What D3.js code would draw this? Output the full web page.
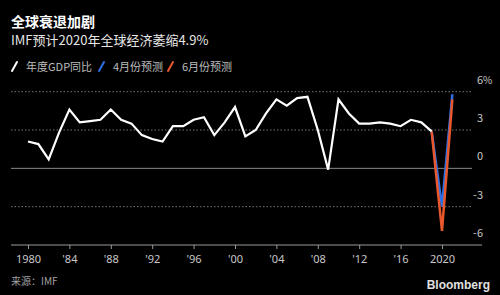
<!DOCTYPE html>
<html>
<head>
<meta charset="utf-8">
<script src="https://cdn.jsdelivr.net/npm/d3@7"></script>
<style>
  body { margin: 0; background: #000; }
  svg { display: block; font-family: "Noto Sans CJK SC", "Noto Sans", sans-serif; }
</style>
</head>
<body>
<div id="chart"></div>
<script>
// yearly world GDP growth (%), 1980-2019
var years = d3.range(1980, 2020);
var gdp = [2.1, 1.9, 0.7, 2.8, 4.6, 3.6, 3.7, 3.8, 4.6, 3.8,
           3.5, 2.6, 2.3, 2.1, 3.3, 3.3, 3.8, 4.0, 2.6, 3.6,
           4.8, 2.5, 3.0, 4.3, 5.4, 4.9, 5.5, 5.6, 3.0, -0.1,
           5.4, 4.3, 3.5, 3.5, 3.6, 3.5, 3.3, 3.8, 3.6, 2.9];
// forecasts start from 2019
var fcYears = [2019, 2020, 2021];
var aprilFc = [2.9, -3.0, 5.8];
var juneFc = [2.9, -4.9, 5.4];

var xTicks = [1980, 1984, 1988, 1992, 1996, 2000, 2004, 2008, 2012, 2016, 2020];
var xTickLabels = ["1980", "'84", "'88", "'92", "'96", "'00", "'04", "'08", "'12", "'16", "2020"];
var yTicks = [-6, -3, 0, 3, 6];

var svgWidth = 500;
var svgHeight = 295;

var svg = d3.select("#chart")
  .append("svg")
  .attr("width", svgWidth)
  .attr("height", svgHeight);

svg.append("rect").attr("width", svgWidth).attr("height", svgHeight).attr("fill", "#000");

// scales
var x = d3.scaleLinear().domain([1980, 2020]).range([28, 442]);
var y = d3.scaleLinear().domain([-6, 6]).range([245, 91.7]);

// title block
svg.append("text")
  .attr("x", 11).attr("y", 27)
  .attr("fill", "#fff")
  .attr("font-size", 14)
  .attr("font-weight", "bold")
  .text("全球衰退加剧");

svg.append("text")
  .attr("x", 11).attr("y", 45)
  .attr("fill", "#e6e6e6")
  .attr("font-size", 13)
  .text("IMF预计2020年全球经济萎缩4.9%");

// legend
var legend = [
  { label: "年度GDP同比", color: "#ffffff", x: 12 },
  { label: "4月份预测", color: "#2f6fe6", x: 99 },
  { label: "6月份预测", color: "#e9582c", x: 168 }
];
var lg = svg.selectAll(".legend")
  .data(legend)
  .enter()
  .append("g")
  .attr("transform", d => `translate(${d.x}, 66)`);
lg.append("line")
  .attr("x1", 0).attr("y1", 5).attr("x2", 5).attr("y2", -4)
  .attr("stroke", d => d.color)
  .attr("stroke-width", 2)
  .attr("stroke-linecap", "round");
lg.append("text")
  .attr("x", 14).attr("y", 4.5)
  .attr("fill", "#bdbdbd")
  .attr("font-size", 11)
  .text(d => d.label);

// gridlines
svg.selectAll(".grid")
  .data(yTicks.filter(d => d !== -6))
  .enter()
  .append("line")
  .attr("x1", 11).attr("x2", 472)
  .attr("y1", d => y(d)).attr("y2", d => y(d))
  .attr("stroke", d => d === 0 ? "#8a8a8a" : "#777")
  .attr("stroke-width", 1)
  .attr("stroke-dasharray", d => d === 0 ? null : "1.5,2");

// y labels
svg.selectAll(".ylab")
  .data(yTicks)
  .enter()
  .append("text")
  .attr("x", 483)
  .attr("y", d => y(d) - 8)
  .attr("text-anchor", "end")
  .attr("fill", "#c8c8c8")
  .attr("font-size", 11)
  .text(d => d);
svg.append("text")
  .attr("x", 483).attr("y", y(6) - 8)
  .attr("fill", "#c8c8c8")
  .attr("font-size", 10)
  .text("%");

// x axis
var xAxis = d3.axisBottom(x)
  .tickValues(xTicks)
  .tickFormat((d, i) => xTickLabels[i])
  .tickSize(4)
  .tickPadding(6);
var gx = svg.append("g")
  .attr("transform", `translate(0, 245)`)
  .call(xAxis);
gx.select(".domain").remove();
gx.selectAll(".tick line").attr("stroke", "#9a9a9a");
gx.selectAll(".tick text")
  .attr("fill", "#c8c8c8")
  .attr("font-size", 11)
  .attr("font-family", "'Noto Sans', sans-serif");
gx.append("line")
  .attr("x1", 11).attr("x2", 482)
  .attr("y1", 0).attr("y2", 0)
  .attr("stroke", "#9a9a9a")
  .attr("stroke-width", 1.2);

// lines
var line = d3.line()
  .x(d => x(d[0]))
  .y(d => y(d[1]));

svg.append("path")
  .datum(fcYears.map((yr, i) => [yr, aprilFc[i]]))
  .attr("d", line)
  .attr("fill", "none")
  .attr("stroke", "#2f6fe6")
  .attr("stroke-width", 2.5);

svg.append("path")
  .datum(fcYears.map((yr, i) => [yr, juneFc[i]]))
  .attr("d", line)
  .attr("fill", "none")
  .attr("stroke", "#e9582c")
  .attr("stroke-width", 2.5);

svg.append("path")
  .datum(years.map((yr, i) => [yr, gdp[i]]))
  .attr("d", line)
  .attr("fill", "none")
  .attr("stroke", "#fff")
  .attr("stroke-width", 2.2)
  .attr("stroke-linejoin", "miter");

// footer
svg.append("text")
  .attr("x", 11).attr("y", 285)
  .attr("fill", "#a0a0a0")
  .attr("font-size", 10)
  .text("来源：IMF");

svg.append("text")
  .attr("x", 490).attr("y", 289)
  .attr("text-anchor", "end")
  .attr("fill", "#e0e0e0")
  .attr("font-size", 12)
  .attr("font-weight", "bold")
  .attr("font-family", "'Liberation Sans', Arial, sans-serif")
  .text("Bloomberg");
</script>
</body>
</html>
